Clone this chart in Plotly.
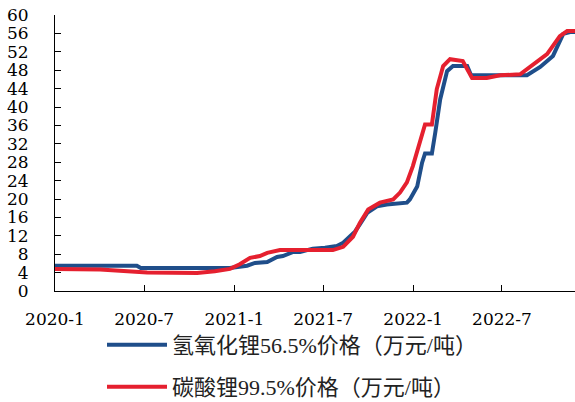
import plotly.graph_objects as go

# 氢氧化锂56.5% price (万元/吨)
lioh_dates = ["2020-01-01", "2020-04-02", "2020-06-16", "2020-06-24", "2020-10-23",
              "2020-12-23", "2021-01-27", "2021-02-12", "2021-03-09", "2021-03-29",
              "2021-04-10", "2021-05-01", "2021-05-15", "2021-06-10", "2021-07-05",
              "2021-07-29", "2021-08-11", "2021-08-25", "2021-09-04", "2021-09-14",
              "2021-09-29", "2021-10-19", "2021-11-08", "2021-12-19", "2021-12-25",
              "2022-01-09", "2022-01-19", "2022-01-25", "2022-02-08", "2022-02-15",
              "2022-02-25", "2022-03-11", "2022-03-23", "2022-04-21", "2022-04-29",
              "2022-08-21", "2022-09-17", "2022-10-13", "2022-11-03", "2022-11-17",
              "2022-11-27"]
lioh = [5.5, 5.5, 5.5, 5.0, 5.0,
        5.0, 5.5, 6.1, 6.3, 7.4,
        7.6, 8.5, 8.5, 9.2, 9.4,
        9.8, 10.5, 11.8, 12.9, 14.5,
        17.0, 18.4, 18.8, 19.2, 19.9,
        22.7, 27.9, 29.9, 29.9, 34.5,
        41.7, 47.8, 48.9, 48.9, 46.9,
        46.9, 48.7, 51.1, 55.9, 56.3,
        56.3]

# 碳酸锂99.5% price (万元/吨)
li2co3_dates = ["2020-01-01", "2020-04-02", "2020-07-07", "2020-10-17", "2020-11-22",
                "2020-12-23", "2021-01-12", "2021-02-02", "2021-02-22", "2021-03-09",
                "2021-04-04", "2021-07-21", "2021-08-11", "2021-08-31", "2021-09-14",
                "2021-10-01", "2021-10-25", "2021-11-21", "2021-12-05", "2021-12-19",
                "2021-12-31", "2022-01-15", "2022-01-25", "2022-02-08", "2022-02-18",
                "2022-03-03", "2022-03-17", "2022-04-12", "2022-04-21", "2022-05-01",
                "2022-05-31", "2022-06-27", "2022-08-07", "2022-09-02", "2022-10-01",
                "2022-10-27", "2022-11-11", "2022-11-27"]
li2co3 = [4.8, 4.7, 4.0, 3.9, 4.3,
          4.8, 5.8, 7.2, 7.6, 8.3,
          8.9, 8.9, 9.6, 11.8, 14.8,
          17.7, 19.2, 19.9, 21.4, 23.6,
          27.1, 32.3, 36.2, 36.2, 43.9,
          48.9, 50.4, 50.0, 48.2, 46.3,
          46.3, 46.9, 47.1, 49.3, 51.5,
          55.4, 56.5, 56.5]

x_tick_vals = ["2020-01-01", "2020-07-01", "2021-01-01", "2021-07-01", "2022-01-01", "2022-07-01"]
x_tick_text = ["2020-1", "2020-7", "2021-1", "2021-7", "2022-1", "2022-7"]
y_tick_vals = list(range(0, 61, 4))

name_lioh = "氢氧化锂56.5%价格（万元/吨）"
name_li2co3 = "碳酸锂99.5%价格（万元/吨）"

fig = go.Figure()
fig.add_trace(go.Scatter(x=lioh_dates, y=lioh, mode="lines", name=name_lioh,
                         line=dict(color="#1f4e8a", width=4), legend="legend"))
fig.add_trace(go.Scatter(x=li2co3_dates, y=li2co3, mode="lines", name=name_li2co3,
                         line=dict(color="#e5202f", width=4), legend="legend2"))

tick_font = dict(family="DejaVu Serif, Liberation Serif, serif", size=17, color="black")
legend_font = dict(family="Liberation Serif, Noto Sans CJK SC", size=22, color="#222222")

fig.update_layout(
    width=575, height=402,
    margin=dict(l=55, r=0, t=15, b=111, autoexpand=False),
    paper_bgcolor="white", plot_bgcolor="white",
    showlegend=True,
    legend=dict(xref="container", yref="container", x=102 / 575, y=1 - 345 / 402,
                xanchor="left", yanchor="middle", font=legend_font,
                bgcolor="rgba(0,0,0,0)", itemwidth=60),
    legend2=dict(xref="container", yref="container", x=102 / 575, y=1 - 387 / 402,
                 xanchor="left", yanchor="middle", font=legend_font,
                 bgcolor="rgba(0,0,0,0)", itemwidth=60),
    xaxis=dict(range=["2020-01-01", "2022-11-27"], tickvals=x_tick_vals, ticktext=x_tick_text,
               ticks="inside", ticklen=6, tickcolor="black", showline=True, linecolor="black",
               linewidth=1, showgrid=False, zeroline=False,
               tickfont=tick_font, ticklabelstandoff=13),
    yaxis=dict(range=[0, 60], tickvals=y_tick_vals, ticks="inside", ticklen=6, tickcolor="black",
               showline=True, linecolor="black", linewidth=1, showgrid=False, zeroline=False,
               tickfont=tick_font, ticklabelstandoff=22),
)

fig.write_html("out.html", config={"displayModeBar": False},
               post_script="document.body.style.margin='0px';")
